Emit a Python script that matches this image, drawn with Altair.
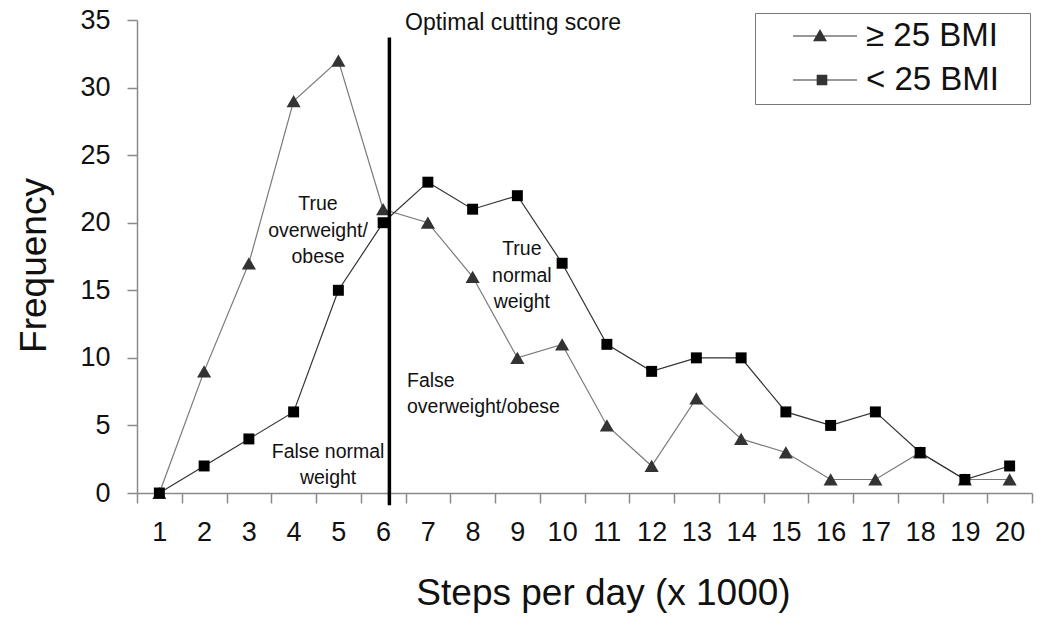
import altair as alt
import pandas as pd

# ---------------- data ----------------
steps = list(range(1, 21))
bmi_over = [0, 9, 17, 29, 32, 21, 20, 16, 10, 11, 5, 2, 7, 4, 3, 1, 1, 3, 1, 1]
bmi_under = [0, 2, 4, 6, 15, 20, 23, 21, 22, 17, 11, 9, 10, 10, 6, 5, 6, 3, 1, 2]
series_names = ["≥ 25 BMI", "< 25 BMI"]

cut_score = 6.14
cut_top = 33.7
cut_bottom = -0.9

# annotation texts (data coordinates)
ann_center_text = ["True\noverweight/\nobese", "True\nnormal\nweight", "False normal\nweight"]
ann_center_x = [4.545, 9.10, 4.77]
ann_center_y = [20.94, 17.61, 2.59]
ann_left_text = ["False\noverweight/obese"]
ann_left_x = [6.533]
ann_left_y = [7.84]
cut_label = ["Optimal cutting score"]
cut_label_x = [6.49]
cut_label_y = [34.26]

# ---------------- tables ----------------
df = pd.DataFrame({
    "steps": steps + steps,
    "freq": bmi_over + bmi_under,
    "series": [series_names[0]] * len(steps) + [series_names[1]] * len(steps),
})
cut_df = pd.DataFrame({"x": [cut_score], "y": [cut_bottom], "y2": [cut_top]})
ann_c = pd.DataFrame({"x": ann_center_x, "y": ann_center_y, "t": ann_center_text})
ann_l = pd.DataFrame({"x": ann_left_x, "y": ann_left_y, "t": ann_left_text})
cut_lab = pd.DataFrame({"x": cut_label_x, "y": cut_label_y, "t": cut_label})

FONT = "Liberation Sans"
AX = "#8a8a8a"
BLANK = "\u2800"  # blank glyph that is not trimmed, widens the legend box

xs = alt.Scale(domain=[0.5, 20.5], nice=False, zero=False)
ys = alt.Scale(domain=[0, 35], nice=False)

xaxis = alt.Axis(
    values=[0.5 + i for i in range(21)],
    labelExpr="datum.value < 20 ? format(datum.value + 0.5, 'd') : ''",
    labelOffset=22.375, labelFlush=False, labelOverlap=False,
    labelFontSize=27, labelPadding=16, labelColor="#111",
    tickSize=10, tickColor=AX, tickWidth=1.5, domainColor=AX, domainWidth=1.5,
    grid=False,
    title="Steps per day (x 1000)", titleFontSize=37, titleFontWeight="normal",
    titleX=466, titleY=111, titleBaseline="alphabetic", titleAlign="center",
    titleColor="#111",
)
yaxis = alt.Axis(
    values=[0, 5, 10, 15, 20, 25, 30, 35],
    labelFontSize=27, labelPadding=17, labelColor="#111",
    tickSize=10, tickColor=AX, tickWidth=1.5, domainColor=AX, domainWidth=1.5,
    grid=False,
    title="Frequency", titleFontSize=37, titleFontWeight="normal",
    titleX=-92, titleY=245, titleAngle=270, titleBaseline="alphabetic",
    titleAlign="center", titleColor="#111",
)

base = alt.Chart(df).encode(
    x=alt.X("steps:Q", scale=xs, axis=xaxis),
    y=alt.Y("freq:Q", scale=ys, axis=yaxis),
)
over = base.transform_filter(alt.datum.series == series_names[0])
under = base.transform_filter(alt.datum.series == series_names[1])

line_over = over.mark_line(strokeWidth=1.2, color="#7a7a7a")
line_under = under.mark_line(strokeWidth=1.2, color="#333333")
pts_over = over.mark_point(shape="triangle-up", filled=True, size=200, color="#333333", opacity=1)
pts_under = under.mark_point(shape="square", filled=True, size=120, color="#000000", opacity=1)

tri_path = ("M-0.347,-0.0126 L1,-0.0126 L1,0.0126 L-0.347,0.0126 Z "
            "M0.221,-0.15 L0.368,0.11 L0.074,0.11 Z")
sq_path = ("M-0.347,-0.0126 L1,-0.0126 L1,0.0126 L-0.347,0.0126 Z "
           "M0.151,-0.112 L0.375,-0.112 L0.375,0.112 L0.151,0.112 Z")

# legend-only layer: no rows drawn, legend built from the explicit scale domain
legend_layer = base.transform_filter("false").mark_point(filled=True, color="#333333").encode(
    shape=alt.Shape(
        "series:N",
        scale=alt.Scale(domain=series_names, range=[tri_path, sq_path]),
        legend=alt.Legend(
            title=None, orient="none", legendX=618, legendY=-7,
            symbolSize=9025, symbolOpacity=1, symbolFillColor="#333333",
            symbolStrokeWidth=0, clipHeight=32, rowPadding=11,
            labelFontSize=33, labelFont=FONT, labelColor="#111", labelOffset=9,
            labelExpr="datum.label + '" + BLANK + "'", labelLimit=300,
            padding=7, strokeColor="#777777", fillColor="white",
        ),
    )
)

cut_rule = alt.Chart(cut_df).mark_rule(strokeWidth=3.5, color="black").encode(
    x=alt.X("x:Q", scale=xs), y=alt.Y("y:Q", scale=ys), y2="y2:Q"
)

txt_c = alt.Chart(ann_c).mark_text(
    font=FONT, fontSize=19.5, lineBreak="\n", lineHeight=26.5, align="center",
    baseline="alphabetic", color="#111"
).encode(x=alt.X("x:Q", scale=xs), y=alt.Y("y:Q", scale=ys), text="t:N")

txt_l = alt.Chart(ann_l).mark_text(
    font=FONT, fontSize=19.5, lineBreak="\n", lineHeight=25.5, align="left",
    baseline="alphabetic", color="#111"
).encode(x=alt.X("x:Q", scale=xs), y=alt.Y("y:Q", scale=ys), text="t:N")

txt_cut = alt.Chart(cut_lab).mark_text(
    font=FONT, fontSize=23, align="left", baseline="alphabetic", color="#111"
).encode(x=alt.X("x:Q", scale=xs), y=alt.Y("y:Q", scale=ys), text="t:N")

chart = alt.layer(
    line_over, line_under, pts_over, pts_under, legend_layer, cut_rule, txt_c, txt_l, txt_cut
).properties(
    width=895, height=473,
    autosize=alt.AutoSizeParams(type="none"),
    padding={"left": 129, "top": 12, "right": 10, "bottom": 120},
    background="white",
).configure_view(stroke=None).configure_axis(
    labelFont=FONT, titleFont=FONT
)

chart.save("out.html", embed_options={"renderer": "svg", "actions": False})
